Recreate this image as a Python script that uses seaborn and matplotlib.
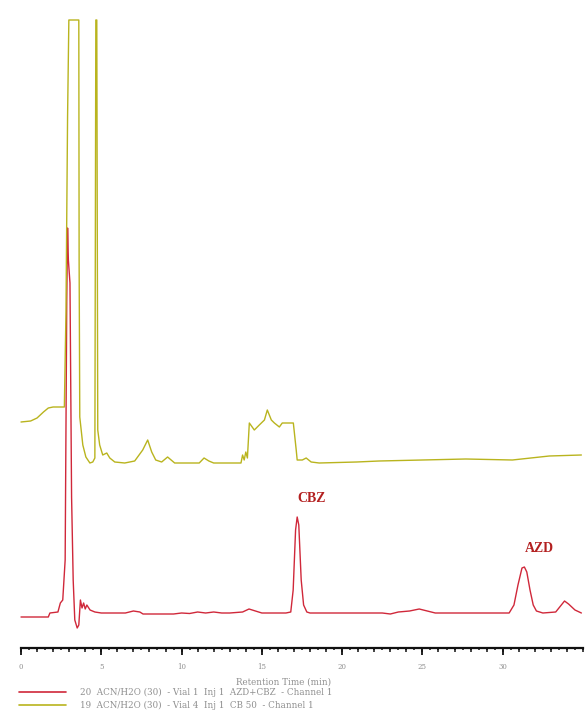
import numpy as np
import pandas as pd
import matplotlib
matplotlib.use("Agg")
import matplotlib.pyplot as plt
from matplotlib.ticker import MultipleLocator
import seaborn as sns

# Retention time (min) and detector signal (mV) of the two runs
red_time = [0.0, 1.7, 1.8, 2.3, 2.45, 2.6, 2.75, 2.85, 2.9, 2.95, 3.05, 3.15, 3.25, 3.35,
            3.5, 3.6, 3.7, 3.8, 3.9, 4.0, 4.1, 4.3, 4.6, 5.0, 6.5, 7.0, 7.4, 7.6, 9.5,
            10.0, 10.5, 11.0, 11.5, 12.0, 12.5, 13.0, 13.8, 14.2, 14.6, 15.0, 16.5,
            16.8, 16.95, 17.1, 17.2, 17.3, 17.45, 17.6, 17.8, 18.0, 22.5, 23.0, 23.5,
            24.2, 24.8, 25.3, 25.8, 30.4, 30.7, 30.95, 31.2, 31.35, 31.5, 31.7, 31.9,
            32.1, 32.5, 33.3, 33.6, 33.85, 34.1, 34.5, 34.9]
red_signal = [-0.4, -0.4, 0.0, 0.1, 1.0, 1.3, 5.3, 31.3, 38.5, 35.3, 33.0, 11.6, 3.3, -0.7,
              -1.5, -1.2, 1.3, 0.5, 1.0, 0.4, 0.8, 0.3, 0.1, 0.0, 0.0, 0.2, 0.1, -0.1, -0.1,
              0.0, -0.05, 0.1, 0.0, 0.1, 0.0, 0.0, 0.1, 0.4, 0.2, 0.0, 0.0,
              0.1, 2.3, 8.3, 9.6, 8.8, 3.3, 0.8, 0.1, 0.0, 0.0, -0.1, 0.1,
              0.2, 0.4, 0.2, 0.0, 0.0, 0.8, 2.8, 4.5, 4.6, 4.1, 2.3, 0.8,
              0.2, 0.0, 0.1, 0.7, 1.2, 0.9, 0.3, 0.0]

yellow_time = [0.0, 0.6, 1.0, 1.4, 1.7, 2.0, 2.7, 2.8, 2.9, 2.98, 3.6, 3.62, 3.66, 3.85,
               4.04, 4.29, 4.47, 4.6, 4.66, 4.72, 4.78, 4.9, 5.09, 5.34, 5.53, 5.84,
               6.46, 7.08, 7.58, 7.89, 8.14, 8.39, 8.76, 9.13, 9.57, 11.1, 11.4, 11.7,
               12.0, 13.7, 13.8, 13.9, 14.0, 14.1, 14.22, 14.53, 14.84, 15.16, 15.34,
               15.59, 15.78, 16.09, 16.27, 16.96, 17.14, 17.2, 17.52, 17.76, 18.07,
               18.57, 20.9, 22.3, 27.7, 30.6, 32.9, 34.9]
yellow_signal = [19.1, 19.2, 19.5, 20.1, 20.5, 20.6, 20.6, 30.0, 49.6, 59.3, 59.3, 35.0, 19.6, 16.8,
                 15.6, 15.0, 15.1, 15.5, 59.3, 59.3, 18.3, 16.8, 15.8, 16.0, 15.5, 15.1,
                 15.0, 15.2, 16.3, 17.3, 16.1, 15.3, 15.1, 15.6, 15.0, 15.0, 15.5, 15.2,
                 15.0, 15.0, 15.8, 15.3, 16.1, 15.5, 19.0, 18.3, 18.8, 19.3, 20.3,
                 19.3, 19.0, 18.6, 19.0, 19.0, 16.3, 15.3, 15.3, 15.5, 15.1,
                 15.0, 15.1, 15.2, 15.4, 15.3, 15.7, 15.8]

run_labels = ["20  ACN/H2O (30)  - Vial 1  Inj 1  AZD+CBZ  - Channel 1",
              "19  ACN/H2O (30)  - Vial 4  Inj 1  CB 50  - Channel 1"]
peak_names = ["CBZ", "AZD"]
peak_label_pos = [(18.1, 11.5), (32.3, 6.5)]
x_ticks = [0, 5, 10, 15, 20, 25, 30]

RED = "#d0283a"
YELLOW = "#b9b41e"
INK = "#111111"
GREY = "#8f8f8f"

df = pd.concat([
    pd.DataFrame({"time": red_time, "signal": red_signal, "run": run_labels[0]}),
    pd.DataFrame({"time": yellow_time, "signal": yellow_signal, "run": run_labels[1]}),
])

sns.set_style("white")
plt.rcParams["font.family"] = ["DejaVu Serif"]

fig = plt.figure(figsize=(5.85, 7.16), dpi=100)
ax = fig.add_axes([21 / 585, 1 - 648 / 716, 562 / 585, 628 / 716])

sns.lineplot(data=df, x="time", y="signal", hue="run", sort=False, estimator=None,
             palette=[RED, YELLOW], hue_order=[run_labels[0], run_labels[1]],
             linewidth=1.0, legend=False, ax=ax)
for line in ax.lines:
    line.set_clip_on(False)

ax.set_xlim(0, 35)
ax.set_ylim(-3.5, 59.3)

for name, (tx, ty) in zip(peak_names, peak_label_pos):
    ax.text(tx, ty, name, color="#b32020", fontsize=10, fontweight="bold",
            family=["Liberation Serif", "DejaVu Serif"], ha="center", va="center")

for side in ["left", "right", "top"]:
    ax.spines[side].set_visible(False)
ax.spines["bottom"].set_linewidth(1.6)
ax.spines["bottom"].set_color(INK)
ax.set_yticks([])

# labelled ticks every 5 min, short ticks every half minute
ax.set_xticks(x_ticks)
ax.xaxis.set_minor_locator(MultipleLocator(0.5))
ax.tick_params(axis="x", which="major", direction="out", length=5, width=1.3,
               color=INK, labelsize=5, labelcolor=GREY, pad=6, bottom=True)
ax.tick_params(axis="x", which="minor", direction="out", length=1.6, width=1.1,
               color=INK, bottom=True)
ax.set_xlabel("")
ax.set_ylabel("")

# medium ticks on whole minutes
sec = ax.secondary_xaxis("bottom")
sec.spines["bottom"].set_visible(False)
sec.set_xticks(np.arange(0, 36, 1))
sec.tick_params(axis="x", which="major", direction="out", length=3, width=1.1,
                color=INK, labelbottom=False)
sec.xaxis.set_minor_locator(matplotlib.ticker.NullLocator())

fig.text(284 / 585, 1 - 682 / 716, "Retention Time (min)", fontsize=6.3,
         color=GREY, ha="center", va="center")

handles = [plt.Line2D([], [], color=RED, lw=1.2), plt.Line2D([], [], color=YELLOW, lw=1.2)]
fig.legend(handles, run_labels, loc="upper left", bbox_to_anchor=(19 / 585, 1 - 688 / 716),
           frameon=False, fontsize=6.3, labelcolor=GREY, handlelength=5.4,
           handletextpad=1.6, labelspacing=0.4, borderaxespad=0, borderpad=0)

fig.savefig("out.png", dpi=100)
